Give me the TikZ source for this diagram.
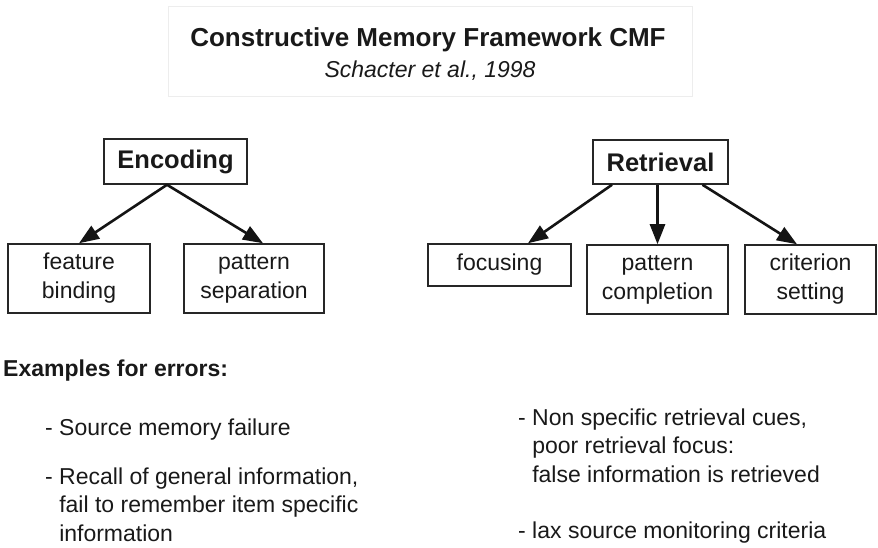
\documentclass[tikz,border=0pt]{standalone}
\usepackage{fontspec}
\setmainfont{Liberation Sans}
\usetikzlibrary{arrows.meta,calc}

\begin{document}
\begin{tikzpicture}[x=1pt,y=-1pt,
  every node/.style={text=black!90},
  box/.style={draw=black!85, line width=1.5pt, inner sep=0pt, align=center,
    font=\fontsize{23}{29}\selectfont},
  headbox/.style={box, font=\fontsize{25.5}{30}\selectfont\bfseries},
  link/.style={line width=2.6pt, draw=black!92,
    -{Triangle[length=20pt,width=15pt]}},
  txt/.style={inner sep=0pt, anchor=base west, align=left,
    font=\fontsize{23}{28.5}\selectfont}]
\useasboundingbox (0,0) rectangle (878,548);

% title panel
\node[draw=black!7, line width=1pt, minimum width=524pt, minimum height=90pt,
  inner sep=0pt] (panel) at (430,52) {};
\node[inner sep=0pt, anchor=base, font=\fontsize{26}{30}\selectfont\bfseries]
  (title) at (428,47) {Constructive Memory Framework CMF};
\node[inner sep=0pt, anchor=base, font=\fontsize{23}{28}\selectfont\itshape]
  (cite) at (430,78) {Schacter et al., 1998};

% encoding branch
\node[headbox, minimum width=143pt, minimum height=45pt] (enc) at (175.5,161.5) {Encoding};
\node[box, minimum width=142pt, minimum height=69pt] (fb) at (79,278.5) {feature\\binding};
\node[box, minimum width=140pt, minimum height=69pt] (ps) at (254,278.5) {pattern\\separation};
\draw[link] ([xshift=-8.5pt]enc.south) -- (fb.north);
\draw[link] ([xshift=-8.5pt]enc.south) -- ([xshift=9pt]ps.north);

% retrieval branch
\node[headbox, minimum width=135pt, minimum height=44pt] (ret) at (660.5,162) {Retrieval};
\node[box, minimum width=143pt, minimum height=42pt] (foc) at (499.5,265) {focusing};
\node[box, minimum width=141pt, minimum height=69pt] (pc) at (657.5,279.5) {pattern\\completion};
\node[box, minimum width=131pt, minimum height=69pt] (cs) at (810.5,279.5) {criterion\\setting};
\draw[link] ([xshift=-48.5pt]ret.south) -- ([xshift=28.5pt]foc.north);
\draw[link] (pc.north |- ret.south) -- (pc.north);
\draw[link] ([xshift=42pt]ret.south) -- ([xshift=-13.5pt]cs.north);

% error examples (base anchor sits on the last line of each paragraph)
\node[txt, font=\fontsize{23}{29}\selectfont\bfseries] (ex) at (3,376) {Examples for errors:};
\node[txt] (e1) at (45,435) {- Source memory failure};
\node[txt] (e2) at (45,541) {- Recall of general information,\\
  \phantom{- }fail to remember item specific\\
  \phantom{- }information};
\node[txt] (r1) at (518,482) {- Non specific retrieval cues,\\
  \phantom{- }poor retrieval focus:\\
  \phantom{- }false information is retrieved};
\node[txt] (r2) at (518,538) {- lax source monitoring criteria};
\end{tikzpicture}
\end{document}
